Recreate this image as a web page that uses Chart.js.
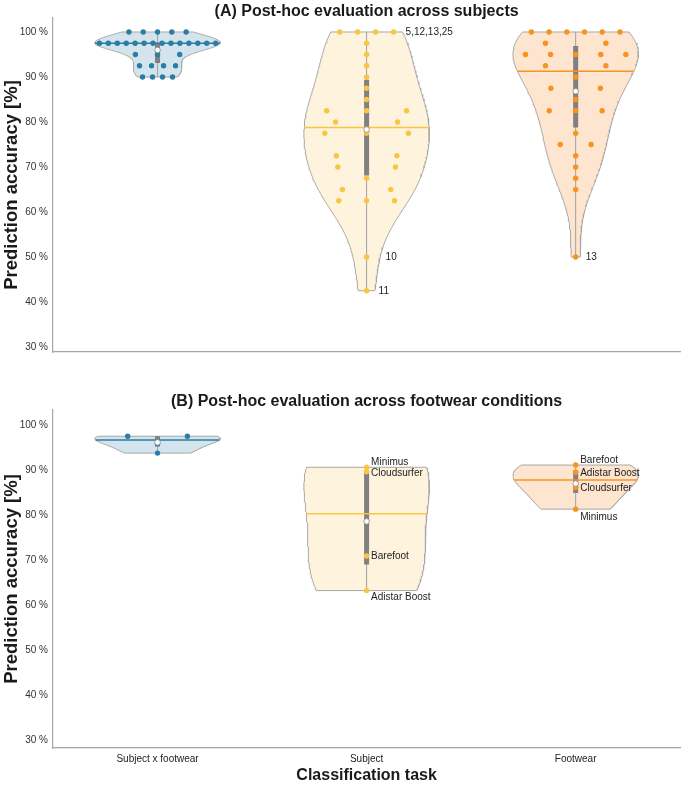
<!DOCTYPE html>
<html lang="en">
<head>
<meta charset="UTF-8">
<title>Post-hoc evaluation</title>
<script src="https://cdn.jsdelivr.net/npm/chart.js"></script>
<style>
  body { margin: 0; background: #fff; }
  canvas { display: block; }
</style>
</head>
<body>
<canvas id="chartA" width="685" height="372"></canvas>
<canvas id="chartB" width="685" height="413"></canvas>
<script>
// classification tasks (x categories) and y ticks
var tasks = ['Subject x footwear', 'Subject', 'Footwear']
var yTicks = [30, 40, 50, 60, 70, 80, 90, 100]

// (A) one accuracy per subject (30 subjects)
var subjFootA = [100, 100, 100, 100, 100,
  97.5, 97.5, 97.5, 97.5, 97.5, 97.5, 97.5, 97.5, 97.5, 97.5, 97.5, 97.5, 97.5, 97.5,
  95, 95, 95, 92.5, 92.5, 92.5, 92.5, 90, 90, 90, 90]
var subjectA = [100, 100, 100, 100, 97.5, 95, 92.5, 90, 87.5, 85,
  82.5, 82.5, 82.5, 80, 80, 77.5, 77.5, 77.5, 72.5, 72.5,
  70, 70, 67.5, 65, 65, 62.5, 62.5, 62.5, 50, 42.5]
var footwearA = [100, 100, 100, 100, 100, 100, 97.5, 97.5, 95, 95,
  95, 95, 95, 92.5, 92.5, 90, 87.5, 87.5, 85, 82.5,
  82.5, 82.5, 77.5, 75, 75, 72.5, 70, 67.5, 65, 50]

// (B) one accuracy per footwear condition
var conditions = ['Barefoot', 'Adistar Boost', 'Cloudsurfer', 'Minimus']
var subjFootB = [97.5, 95.8, 97.5, 93.75]
var subjectB = [70.9, 63.2, 89.6, 90.6]
var footwearB = [91.1, 89.5, 86.1, 81.3]

// annotated points
var labelsA = [
  {text: '5,12,13,25', task: 1, value: 100, dx: 39, dy: 0},
  {text: '10', task: 1, value: 50, dx: 19, dy: 0},
  {text: '11', task: 1, value: 42.5, dx: 12, dy: 0},
  {text: '13', task: 2, value: 50, dx: 10, dy: 0}
]
var subjLabelDy = [0.7, 7, 1.6, -4.6]
var footLabelDy = [-4.3, 1, 1.2, 8]
var labelsB = []
conditions.forEach(function (c, j) {
  labelsB.push({text: c, task: 1, value: subjectB[j], dx: 4.5, dy: subjLabelDy[j]})
  labelsB.push({text: c, task: 2, value: footwearB[j], dx: 4.5, dy: footLabelDy[j]})
})

var dotColors = ['#2a7ea5', '#fbc443', '#f7931e']
var fillColors = ['#d4e4ec', '#fef3dc', '#fde5cf']
var HALF = 0.3
var FONT = '"Liberation Sans", Arial, sans-serif'

// gaussian kde (scott), cut at data range, every violin scaled to same width
function violin(values) {
  var n = values.length
  var mean = values.reduce(function (a, b) { return a + b }, 0) / n
  var sd = Math.sqrt(values.reduce(function (a, v) { return a + (v - mean) * (v - mean) }, 0) / (n - 1))
  var bw = sd * Math.pow(n, -0.2)
  var lo = Math.min.apply(null, values), hi = Math.max.apply(null, values)
  var dens = function (y) {
    return values.reduce(function (a, v) { return a + Math.exp(-0.5 * Math.pow((y - v) / bw, 2)) }, 0)
  }
  var grid = []
  for (var i = 0; i <= 120; i++) grid.push(lo + (hi - lo) * i / 120)
  var peak = Math.max.apply(null, grid.map(dens))
  var sorted = values.slice().sort(function (a, b) { return a - b })
  var q = function (p) {
    var h = (n - 1) * p, k = Math.floor(h)
    var nxt = k + 1 < n ? sorted[k + 1] : sorted[k]
    return sorted[k] + (h - k) * (nxt - sorted[k])
  }
  return {grid: grid, width: function (y) { return HALF * dens(y) / peak },
    lo: lo, hi: hi, mean: mean, median: q(0.5), q1: q(0.25), q3: q(0.75)}
}

function buildDatasets(series) {
  var ds = []
  series.forEach(function (values, i) {
    var v = violin(values)
    var outline = []
    v.grid.forEach(function (y) { outline.push({x: i - v.width(y), y: y}) })
    v.grid.slice().reverse().forEach(function (y) { outline.push({x: i + v.width(y), y: y}) })
    outline.push(outline[0])
    ds.push({data: outline, showLine: true, fill: 'shape', backgroundColor: fillColors[i],
      borderColor: '#a8a8a8', borderWidth: 1, pointRadius: 0, order: 10})
    ds.push({data: [{x: i, y: v.lo}, {x: i, y: v.hi}], showLine: true, borderColor: '#a0a0a0',
      borderWidth: 1, pointRadius: 0, order: 9})
    ds.push({data: [{x: i, y: v.q1}, {x: i, y: v.q3}], showLine: true, borderColor: '#808080',
      borderWidth: 5, borderCapStyle: 'butt', pointRadius: 0, order: 8})
    var mw = v.width(v.median)
    ds.push({data: [{x: i - mw, y: v.median}, {x: i + mw, y: v.median}], showLine: true,
      borderColor: dotColors[i], borderWidth: 1.5, pointRadius: 0, order: 7})
    // dots spread evenly across the violin width at their value
    var groups = {}
    values.forEach(function (val) { groups[val] = (groups[val] || 0) + 1 })
    var pts = []
    Object.keys(groups).forEach(function (k) {
      var val = +k, cnt = groups[k], w = v.width(val)
      for (var j = 0; j < cnt; j++) pts.push({x: i + w * (-1 + (2 * j + 1) / cnt), y: val})
    })
    ds.push({data: pts, showLine: false, pointRadius: 2.7, pointBackgroundColor: dotColors[i],
      pointBorderWidth: 0, order: 5})
    ds.push({data: [{x: i, y: v.mean}], showLine: false, pointRadius: 2.8,
      pointBackgroundColor: '#ffffff', pointBorderColor: '#888', pointBorderWidth: 0.8, order: 1})
  })
  return ds
}

var pointLabels = {
  id: 'pointLabels',
  afterDatasetsDraw: function (chart, args, opts) {
    var ctx = chart.ctx, xs = chart.scales.x, ys = chart.scales.y
    ctx.save()
    ctx.font = '10px ' + FONT
    ctx.fillStyle = '#222'
    ctx.textAlign = 'left'
    ctx.textBaseline = 'middle'
    opts.items.forEach(function (l) {
      ctx.fillText(l.text, xs.getPixelForValue(l.task) + l.dx, ys.getPixelForValue(l.value) + l.dy)
    })
    ctx.restore()
  }
}

function makeChart(id, title, series, labels, yMin, yMax, padTop, titleLh, showX, xHeight) {
  return new Chart(document.getElementById(id), {
    type: 'scatter',
    data: {datasets: buildDatasets(series)},
    plugins: [pointLabels],
    options: {
      responsive: false,
      animation: false,
      events: [],
      layout: {padding: {top: padTop, left: 0, right: 2, bottom: 0}},
      plugins: {
        legend: {display: false},
        tooltip: {enabled: false},
        title: {display: true, text: title, fullSize: false, color: '#1a1a1a',
          font: {family: FONT, size: 16, weight: 'bold', lineHeight: titleLh},
          padding: {top: 0, bottom: 0}},
        pointLabels: {items: labels}
      },
      scales: {
        x: {
          type: 'linear', min: -0.5, max: 2.5,
          afterBuildTicks: function (s) { s.ticks = [0, 1, 2].map(function (v) { return {value: v} }) },
          afterFit: function (s) { s.height = xHeight },
          grid: {display: false, drawTicks: false},
          border: {display: true, color: '#a6a6a6', width: 1.2},
          ticks: {display: showX, padding: 5, color: '#222', font: {family: FONT, size: 10},
            callback: function (v) { return tasks[v] }},
          title: {display: showX, text: 'Classification task', color: '#1a1a1a',
            font: {family: FONT, size: 16, weight: 'bold'}, padding: {top: 0, bottom: 0}}
        },
        y: {
          min: yMin, max: yMax,
          afterBuildTicks: function (s) { s.ticks = yTicks.map(function (v) { return {value: v} }) },
          afterFit: function (s) { s.width = 53 },
          grid: {display: false, drawTicks: false},
          border: {display: true, color: '#a6a6a6', width: 1.2},
          ticks: {padding: 5, color: '#333', font: {family: FONT, size: 10},
            callback: function (v) { return v + ' %' }},
          title: {display: true, text: 'Prediction accuracy [%]', color: '#1a1a1a',
            font: {family: FONT, size: 18.5, weight: 'bold', lineHeight: 1.2}, padding: {top: 1, bottom: 0}}
        }
      }
    }
  })
}

makeChart('chartA', '(A) Post-hoc evaluation across subjects',
  [subjFootA, subjectA, footwearA], labelsA, 28.89, 103.11, 6, 0.75, false, 20)
makeChart('chartB', '(B) Post-hoc evaluation across footwear conditions',
  [subjFootB, subjectB, footwearB], labelsB, 28.22, 103.33, 22, 1, true, 37)
</script>
</body>
</html>
